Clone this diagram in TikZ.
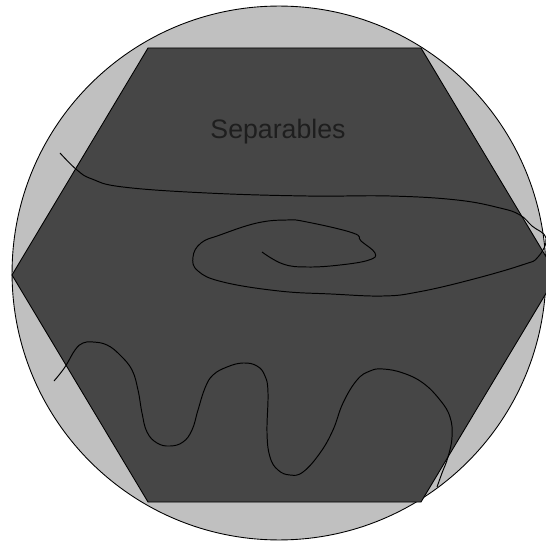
\documentclass[tikz,border=0pt]{standalone}
\usepackage{fontspec}
\setmainfont{Liberation Sans}
\usepackage{tikz}
\definecolor{discgray}{HTML}{C0C0C0}
\definecolor{hexgray}{HTML}{464646}
\definecolor{labelgray}{HTML}{1E1E1E}

\begin{document}
\begin{tikzpicture}[
  x=0.02cm, y=-0.02cm,
  region/.style={draw=black, line width=0.5pt},
  scribble/.style={draw=black, line width=0.55pt, smooth, tension=0.7},
  label/.style={font=\fontsize{15.2}{18}\selectfont, text=labelgray, inner sep=0pt},
]
\useasboundingbox (0,0) rectangle (546,553);

% outer disc and hexagon
\path[region, fill=discgray] (279,273) circle [radius=5.34cm];
\path[region, fill=hexgray] (148,48) -- (421,48) -- (557,275) -- (421,502)
  -- (148,502) -- (12,275) -- cycle;

\node[label] (sep) at (278,132) {Separables};

% long line with spiral
\draw[scribble] plot coordinates {
  (60,153) (77,170) (92,179) (123,187) (207,193) (307,196) (390,196)
  (457,200) (500,208) (520,215) (532,226) (546,238) (538,257) (522,265)
  (470,280) (418,292) (383,296) (331,294) (279,291) (223,282) (198,271)
  (193,257) (201,243) (220,235) (257,223) (287,220) (307,222) (353,233)
  (361,241) (375,253) (369,260) (340,265) (307,267) (283,264) (262,252)
};

% wavy line at the bottom
\draw[scribble] plot coordinates {
  (54,381) (65,367) (75,350) (83,343) (93,342) (107,345) (120,355)
  (132,370) (138,390) (142,413) (147,432) (157,443) (170,446) (183,442)
  (192,430) (198,410) (205,388) (213,375) (227,367) (243,363) (257,366)
  (265,376) (268,393) (267,433) (270,457) (278,470) (290,475) (303,472)
  (320,453) (333,430) (343,403) (357,380) (370,371) (383,369) (403,373)
  (423,383) (440,400) (450,417) (452,437) (448,457) (442,473) (437,487)
};
\end{tikzpicture}
\end{document}
